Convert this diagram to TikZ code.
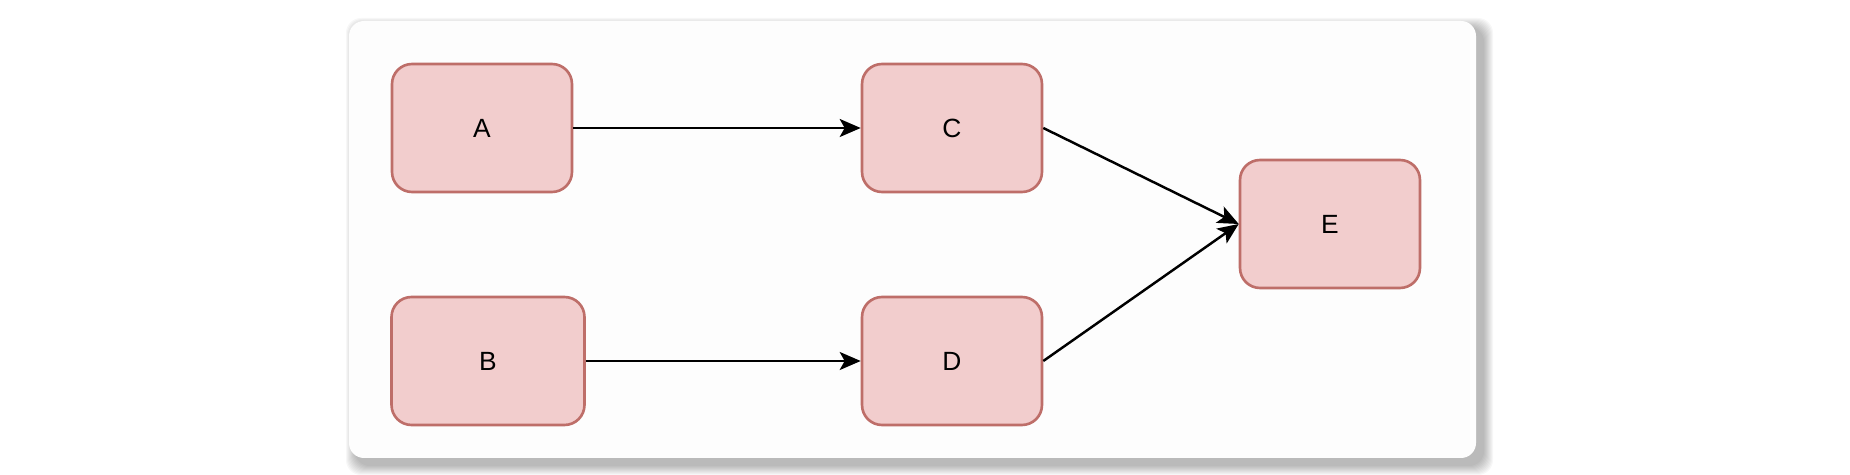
\documentclass[tikz,border=0pt]{standalone}
\usepackage{fontspec}
\setmainfont{Liberation Sans}
\usetikzlibrary{arrows.meta}
\definecolor{boxfill}{HTML}{F2CDCD}
\definecolor{boxline}{HTML}{BE6E69}
\definecolor{cardfill}{HTML}{FDFDFD}

\begin{document}
\begin{tikzpicture}[x=0.02cm,y=-0.02cm,line width=1.4pt,>={Stealth[length=0.42cm,width=0.36cm,inset=0.1cm]},
  blk/.style={draw=boxline,fill=boxfill,line width=1.5pt,rounded corners=0.4cm,minimum width=3.6cm,
    minimum height=2.56cm,inner sep=0pt,font=\fontsize{15}{18}\selectfont}]
\useasboundingbox (0,0) rectangle (1850,475);
% ---------- 卡片与阴影 ----------
\foreach \k in {1,...,10}
  \fill[black,opacity=0.03,rounded corners=0.3cm] (356-\k,28-\k) rectangle (1483+\k,465+\k);
\fill[cardfill,rounded corners=0.3cm] (349,21) rectangle (1476,458);
% ---------- 节点 ----------
\node[blk] (a) at (482,128) {A};
\node[blk,minimum width=3.86cm] (b) at (488,361) {B};
\node[blk] (c) at (952,128) {C};
\node[blk] (d) at (952,361) {D};
\node[blk] (e) at (1330,224) {E};
% ---------- 连线 ----------
\draw[->] (a) -- (c);
\draw[->] (b) -- (d);
\draw[->] (c.east) -- (e.west);
\draw[->] (d.east) -- (e.west);
\end{tikzpicture}
\end{document}
